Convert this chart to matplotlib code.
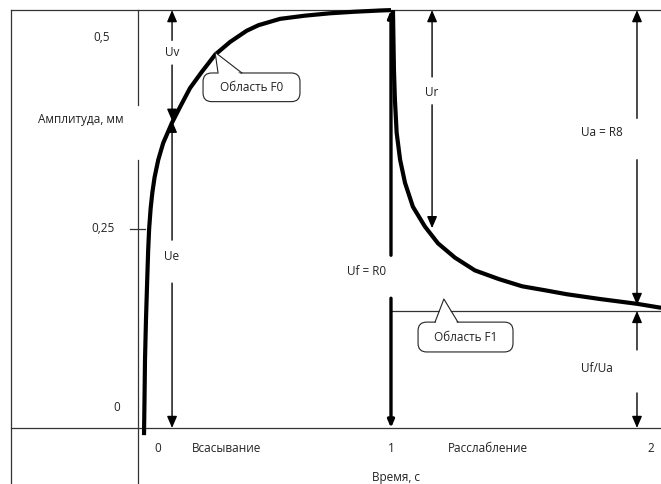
import matplotlib.pyplot as plt
from matplotlib.patches import FancyBboxPatch, Polygon

plt.rcParams['font.family'] = ['Open Sans', 'DejaVu Sans']

# кривая всасывания (время, с / амплитуда, мм)
rise_t = [-0.004, -0.002, 0.000, 0.004, 0.009, 0.013, 0.017, 0.023, 0.030, 0.039,
          0.054, 0.074, 0.109, 0.142, 0.183, 0.230, 0.285, 0.346, 0.413, 0.461,
          0.549, 0.650, 0.752, 0.854, 0.955, 1.000]
rise_a = [-0.009, 0.035, 0.085, 0.136, 0.186, 0.224, 0.251, 0.276, 0.296, 0.315,
          0.337, 0.358, 0.383, 0.403, 0.427, 0.447, 0.469, 0.485, 0.499, 0.506,
          0.514, 0.518, 0.521, 0.523, 0.5245, 0.525]

# кривая расслабления
decay_t = [1.008, 1.010, 1.012, 1.016, 1.023, 1.037, 1.057, 1.089, 1.138, 1.191,
           1.260, 1.341, 1.439, 1.533, 1.626, 1.715, 1.850, 2.000, 2.098]
decay_a = [0.525, 0.487, 0.450, 0.412, 0.371, 0.337, 0.308, 0.278, 0.253, 0.232,
           0.214, 0.198, 0.187, 0.178, 0.173, 0.168, 0.162, 0.156, 0.151]

a_max = 0.525   # Uv + Ue
a_e = 0.386     # уровень Ue
a_r = 0.251     # конец Ur
a_a = 0.1545    # уровень Ua (R8)
a_f = 0.147     # уровень F1

y_ticks = [0, 0.25, 0.5]
y_labels = ['0', '0,25', '0,5']
x_ticks = [0, 1, 2]
x_labels = ['0', '1', '2']

fig = plt.figure(figsize=(6.61, 4.84), dpi=100)
ax = fig.add_axes([0, 0, 1, 1])
x_lo, x_hi = -0.5894, 2.0976
y_lo, y_hi = -0.0704, 0.5377
ax.set_xlim(x_lo, x_hi)
ax.set_ylim(y_lo, y_hi)
ax.axis('off')

thin = dict(color='#333333', lw=0.9)

# рамка
ax.plot([-0.545, -0.545], [a_max, y_lo], **thin)
ax.plot([-0.545, x_hi], [a_max, a_max], **thin)
# оси
ax.plot([-0.028, -0.028], [a_max, 0.406], **thin)
ax.plot([-0.028, -0.028], [0.337, y_lo], **thin)
ax.plot([-0.545, x_hi], [0, 0], **thin)
ax.plot([-0.061, 0.0], [0.25, 0.25], **thin)
ax.plot([1.0, x_hi], [a_f, a_f], **thin)

fs = 8.5
txt = dict(fontsize=fs, color='#222222', ha='center', va='center')

# подписи осей
label_pos_y = {0: (-0.114, 0.026), 0.25: (-0.171, 0.25), 0.5: (-0.175, 0.491)}
for v, lab in zip(y_ticks, y_labels):
    ax.text(*label_pos_y[v], lab, **txt)
label_pos_x = {0: 0.053, 1: 1.0, 2: 2.057}
for v, lab in zip(x_ticks, x_labels):
    ax.text(label_pos_x[v], -0.026, lab, **txt)
ax.text(-0.26, 0.388, 'Амплитуда, мм', **txt)
ax.text(0.333, -0.026, 'Всасывание', **txt)
ax.text(1.394, -0.026, 'Расслабление', **txt)
ax.text(1.02, -0.0625, 'Время, с', **txt)

# кривые
ax.plot(rise_t, rise_a, color='black', lw=3, solid_capstyle='butt',
        solid_joinstyle='round', zorder=3)
ax.plot(decay_t, decay_a, color='black', lw=3, solid_capstyle='butt',
        solid_joinstyle='round', zorder=3)


def arrow(x, y0, y1, lw=1.0, ms=10):
    ax.annotate('', xy=(x, y1), xytext=(x, y0),
                arrowprops=dict(arrowstyle='-|>,head_length=0.7,head_width=0.3',
                                lw=lw, color='black', shrinkA=0, shrinkB=0,
                                mutation_scale=ms), zorder=4)


arrow(0.110, 0.487, a_max)
arrow(0.110, 0.456, a_e)
ax.text(0.110, 0.472, 'Uv', **txt)
arrow(0.110, 0.236, a_e)
arrow(0.110, 0.182, 0)
ax.text(0.110, 0.215, 'Ue', **txt)

arrow(1.167, 0.441, a_max)
arrow(1.167, 0.406, a_r)
ax.text(1.167, 0.421, 'Ur', **txt)

arrow(2.0, 0.389, a_max)
arrow(2.0, 0.337, a_a)
ax.text(1.858, 0.371, 'Ua = R8', **txt)

arrow(2.0, 0.098, a_f)
arrow(2.0, 0.044, 0)
ax.text(1.837, 0.075, 'Uf/Ua', **txt)

arrow(1.0, 0.217, a_max, lw=2.4, ms=6)
arrow(1.0, 0.163, 0, lw=2.4, ms=6)
ax.text(0.902, 0.197, 'Uf = R0', **txt)


def callout(x0, x1, y0, y1, tip, b0, b1, text):
    box = FancyBboxPatch((x0, y0), x1 - x0, y1 - y0,
                         boxstyle='round,pad=0,rounding_size=0.035',
                         mutation_aspect=246 / 796, fc='white', ec='#222222',
                         lw=0.8, zorder=5)
    ax.add_patch(box)
    ax.add_patch(Polygon([(b0, y1 - 0.003), tip, (b1, y1 - 0.003)],
                         closed=True, fc='white', ec='none', zorder=6))
    ax.plot([b0, tip[0], b1], [y1, tip[1], y1], color='#222222', lw=0.8, zorder=7)
    ax.text((x0 + x1) / 2, (y0 + y1) / 2, text, zorder=8, **txt)


callout(0.236, 0.630, 0.410, 0.446, (0.285, 0.472), 0.297, 0.394, 'Область F0')
callout(1.110, 1.496, 0.0955, 0.133, (1.215, 0.162), 1.179, 1.272, 'Область F1')

fig.savefig('out.png', dpi=100)
